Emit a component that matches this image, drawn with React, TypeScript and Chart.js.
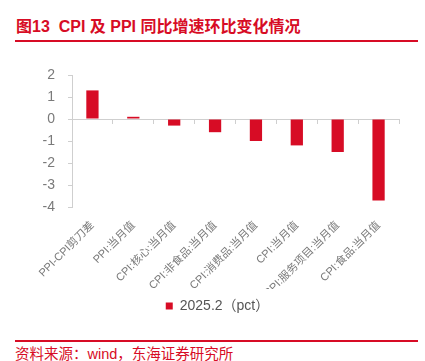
import React, { useEffect, useRef } from "react";
import { Chart, registerables } from "chart.js";

Chart.register(...registerables);

const categories = [
  "PPI-CPI剪刀差",
  "PPI:当月值",
  "CPI:核心:当月值",
  "CPI:非食品:当月值",
  "CPI:消费品:当月值",
  "CPI:当月值",
  "CPI:服务项目:当月值",
  "CPI:食品:当月值",
];
const values = [1.3, 0.1, -0.3, -0.6, -1.0, -1.2, -1.5, -3.7];
const seriesLabel = "2025.2（pct）";
const yMin = -4;
const yMax = 2;
const title = "图13  CPI 及 PPI 同比增速环比变化情况";
const source = "资料来源：wind，东海证券研究所";

const RED = "#d70c25";
const FONT = "'Liberation Sans', Arial, 'Noto Sans CJK SC', sans-serif";

const shiftLegend = {
  id: "shiftLegend",
  afterLayout(chart: any) {
    const l = chart.legend;
    if (l) {
      l.left += 18;
      l.right += 18;
    }
  },
};

export default function App() {
  const ref = useRef<HTMLCanvasElement | null>(null);

  useEffect(() => {
    if (!ref.current) return;
    const chart = new Chart(ref.current, {
      type: "bar",
      data: {
        labels: categories,
        datasets: [
          {
            label: seriesLabel,
            data: values,
            backgroundColor: RED,
            borderWidth: 0,
            barPercentage: 0.3,
            categoryPercentage: 1,
            xAxisID: "x",
          },
        ],
      },
      plugins: [shiftLegend],
      options: {
        animation: false,
        responsive: false,
        maintainAspectRatio: false,
        layout: { padding: { top: 75, left: 0, right: 26, bottom: 0 } },
        plugins: {
          tooltip: { enabled: false },
          legend: {
            display: true,
            position: "bottom",
            labels: {
              boxWidth: 7,
              boxHeight: 7,
              padding: 10,
              color: "#555",
              font: { size: 14, family: FONT },
            },
          },
        },
        scales: {
          x: {
            type: "category",
            position: "bottom",
            border: { display: false },
            grid: { display: false },
            ticks: {
              minRotation: 45,
              maxRotation: 45,
              autoSkip: false,
              color: "#7a7a7a",
              padding: 4,
              font: { size: 11, family: FONT },
            },
            afterFit: (s: any) => {
              s.height = 82;
            },
          },
          x2: {
            type: "category",
            position: { y: 0 } as any,
            offset: true,
            border: { display: true, color: "#cfcfcf", width: 1 },
            grid: {
              display: true,
              drawOnChartArea: false,
              drawTicks: true,
              tickLength: 4,
              color: "#cfcfcf",
              offset: true,
            },
            ticks: { display: false },
          },
          y: {
            min: yMin,
            max: yMax,
            border: { display: true, color: "#cfcfcf", width: 1 },
            grid: {
              display: true,
              drawOnChartArea: false,
              drawTicks: true,
              tickLength: 4,
              color: "#cfcfcf",
            },
            ticks: {
              stepSize: 1,
              color: "#7a7a7a",
              padding: 13,
              font: { size: 14, family: FONT },
            },
            afterFit: (s: any) => {
              s.width = 72;
            },
          },
        },
      },
    });
    return () => chart.destroy();
  }, []);

  return (
    <div
      style={{
        position: "fixed",
        left: 0,
        top: 0,
        width: 425,
        height: 361,
        background: "#fff",
        overflow: "hidden",
      }}
    >
      <div
        style={{
          position: "absolute",
          left: 16,
          top: 17,
          fontFamily: FONT,
          fontWeight: "bold",
          fontSize: 16,
          lineHeight: "20px",
          color: RED,
          whiteSpace: "pre",
        }}
      >
        {title}
      </div>
      <div
        style={{
          position: "absolute",
          left: 15,
          top: 40,
          width: 403,
          height: 2,
          background: RED,
        }}
      />
      <canvas
        ref={ref}
        width={425}
        height={323}
        style={{ position: "absolute", left: 0, top: 0, width: 425, height: 323 }}
      />
      <div
        style={{
          position: "absolute",
          left: 15,
          top: 340,
          width: 403,
          height: 2,
          background: RED,
        }}
      />
      <div
        style={{
          position: "absolute",
          left: 15,
          top: 345,
          fontFamily: FONT,
          fontSize: 14.5,
          lineHeight: "18px",
          color: RED,
          whiteSpace: "pre",
        }}
      >
        {source}
      </div>
    </div>
  );
}
